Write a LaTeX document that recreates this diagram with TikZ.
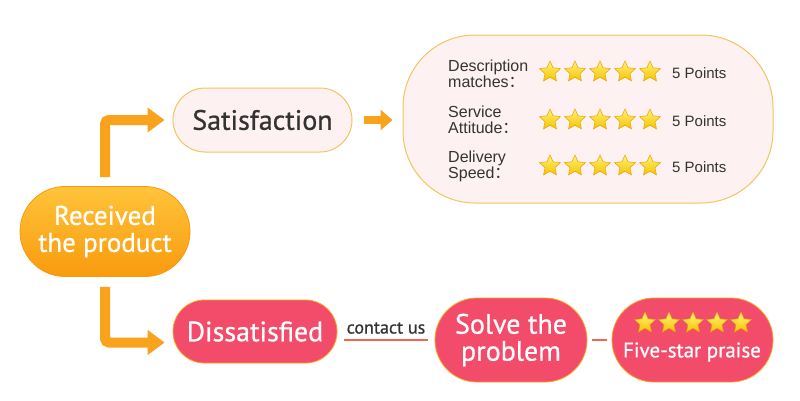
\documentclass[tikz,border=0pt]{standalone}
\usepackage{fontspec}
\setmainfont[FakeBold=0.7]{PT Sans}
\newfontfamily\arialf{Liberation Sans}
\newfontfamily\cjk{Noto Sans CJK SC}
\usetikzlibrary{shapes.geometric,arrows.meta,calc}
\definecolor{orgA}{HTML}{FFC43A}
\definecolor{orgB}{HTML}{F99A0E}
\definecolor{flow}{HTML}{F9A21C}
\definecolor{pinkbg}{HTML}{FDF1F1}
\definecolor{pillline}{HTML}{F5C45E}
\definecolor{redpill}{HTML}{F34B6A}
\definecolor{redline}{HTML}{F2664C}
\definecolor{txt}{HTML}{333333}
\definecolor{starA}{HTML}{FFF27A}
\definecolor{starB}{HTML}{F7C200}
\definecolor{starD}{HTML}{E3A400}
\tikzset{
  pill/.style={rectangle, inner sep=0pt, align=center},
  orangepill/.style={pill, top color=orgA, bottom color=orgB, draw=orgB, line width=0.8pt, text=white},
  lightpill/.style={pill, fill=pinkbg, draw=pillline, line width=1pt, text=txt},
  redpillst/.style={pill, fill=redpill, draw=flow, line width=0.8pt, text=white},
  flowline/.style={draw=flow, line width=10pt, -{Triangle[length=17pt,width=24pt]}},
  smallarrow/.style={draw=flow, line width=8pt, -{Triangle[length=12pt,width=20pt]}},
  starnode/.style={star, star points=5, star point ratio=2.1, minimum size=#1, inner sep=0pt, top color=starA, bottom color=starB, draw=starD, line width=0.5pt},
  rowlabel/.style={anchor=west, align=left, font=\arialf\fontsize{16}{16}\selectfont, text=txt, inner sep=0pt},
  pointsst/.style={anchor=west, font=\arialf\fontsize{15}{16}\selectfont, text=txt, inner sep=0pt}
}
\begin{document}
\begin{tikzpicture}[x=1pt,y=-1pt]
\useasboundingbox (0,0) rectangle (800,400);
% main nodes
\node[orangepill, minimum width=170pt, minimum height=90pt, rounded corners=45pt, font=\fontsize{27}{27}\selectfont] (recv) at (105,231.5) {Received\\the product};
\node[lightpill, minimum width=179pt, minimum height=64pt, rounded corners=32pt, font=\fontsize{28}{28}\selectfont] (sat) at (262.5,120) {Satisfaction};
\node[redpillst, minimum width=164pt, minimum height=63pt, rounded corners=31.5pt, font=\fontsize{28}{28}\selectfont] (dis) at (255,331.5) {Dissatisfied};
\node[lightpill, minimum width=370pt, minimum height=168pt, rounded corners=72pt] (box) at (588,119) {};
\node[redpillst, minimum width=152pt, minimum height=84pt, rounded corners=42pt, font=\fontsize{28}{27}\selectfont] (solve) at (511,340) {Solve the\\problem};
\node[redpillst, minimum width=161pt, minimum height=84pt, rounded corners=42pt] (five) at (692.5,340) {};
% flow connectors
\draw[flowline, rounded corners=4pt, shorten <=9pt, shorten >=8pt] (recv.north) |- (sat.west);
\draw[flowline, rounded corners=4pt, shorten <=10pt, shorten >=8pt] (recv.south) |- ([yshift=-11pt]dis.west);
\draw[smallarrow, shorten <=11pt, shorten >=10pt] (sat.east) -- (sat.east -| box.west);
\draw[redline, line width=2.5pt, shorten <=7pt, shorten >=7pt] (dis.east |- solve.west) -- node[above=5pt, text=txt, font=\fontsize{18}{18}\selectfont, inner sep=0pt] (contact) {contact us} (solve.west);
\draw[redline, line width=2.5pt, shorten <=5pt, shorten >=5pt] (solve.east) -- (five.west);
% rows in box
\node[rowlabel] (l1) at (448,74) {Description\\matches{\cjk ：}};
\node[rowlabel] (l2) at (448,120) {Service\\Attitude{\cjk ：}};
\node[rowlabel] (l3) at (448,166) {Delivery\\Speed{\cjk ：}};
\foreach \r/\yy in {1/72,2/120,3/166}{
  \foreach \k in {0,...,4}{
    \node[starnode=22pt] (s\r\k) at (550+25*\k,\yy) {};
  }
  \node[pointsst] (p\r) at (672,\yy+1) {5 Points};
}
% five-star praise contents
\foreach \k in {0,...,4}{
  \node[starnode=22pt] (f\k) at (645+24*\k,323) {};
}
\node[text=white, font=\fontsize{21}{21}\selectfont, inner sep=0pt] (praise) at (692,352) {Five-star praise};
\end{tikzpicture}
\end{document}
